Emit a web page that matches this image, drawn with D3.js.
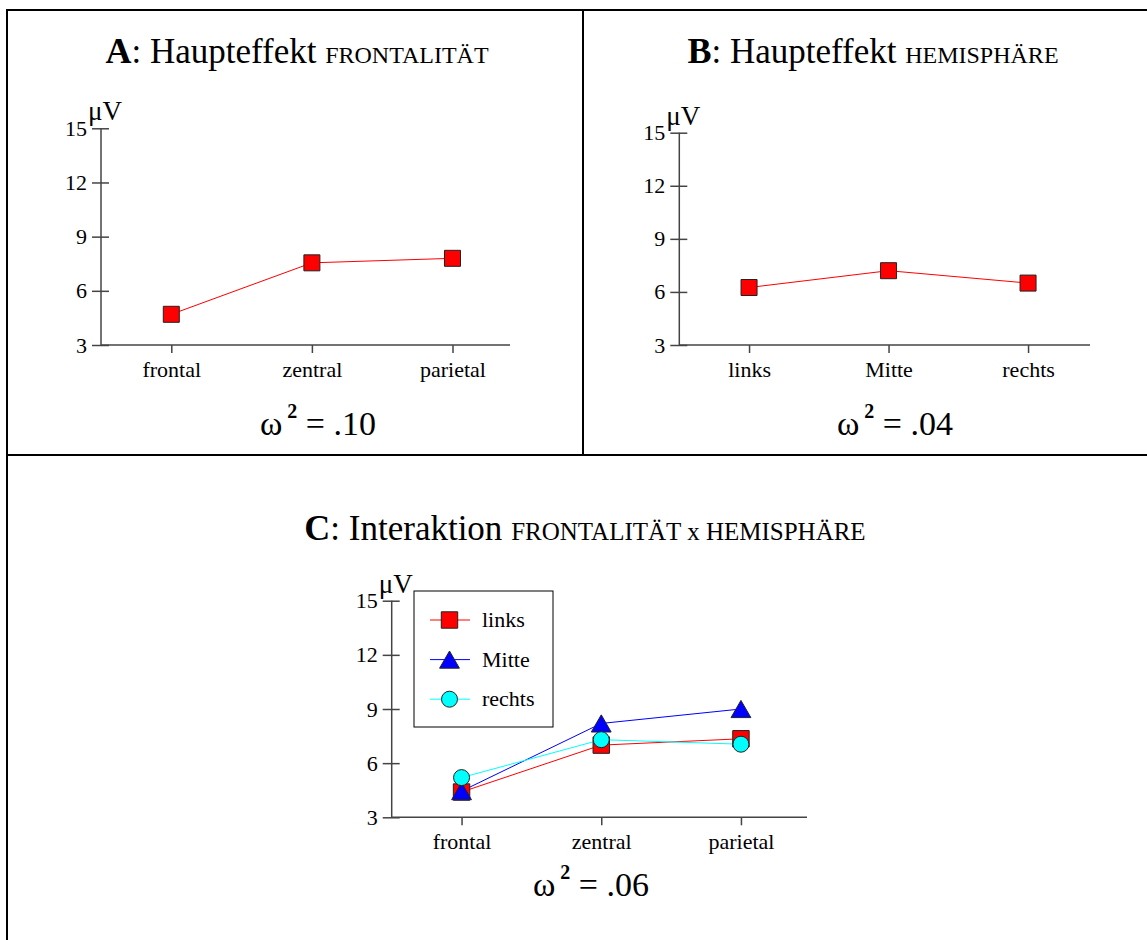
<!DOCTYPE html>
<html>
<head>
<meta charset="utf-8">
<script src="https://cdnjs.cloudflare.com/ajax/libs/d3/7.8.5/d3.min.js"></script>
<style>
  body { margin: 0; background: #fff; }
  svg { display: block; font-family: "Liberation Serif", "Times New Roman", serif; }
</style>
</head>
<body>
<svg width="1147" height="940"></svg>
<script>
// data
var catFront = ["frontal", "zentral", "parietal"];
var catHemi = ["links", "Mitte", "rechts"];
var yTicks = [3, 6, 9, 12, 15];
var valA = [4.7, 7.55, 7.8];          // Haupteffekt Frontalität
var valB = [6.25, 7.2, 6.5];          // Haupteffekt Hemisphäre
var cLinks = [4.4, 7.0, 7.35];        // Interaktion, links
var cMitte = [4.45, 8.2, 9.0];        // Interaktion, Mitte
var cRechts = [5.2, 7.3, 7.05];       // Interaktion, rechts

var svg = d3.select("svg")
svg.append("rect").attr("width", 1147).attr("height", 940).attr("fill", "#fff")

// frame
var frame = svg.append("g").attr("stroke", "#000").attr("stroke-width", 2)
frame.append("line").attr("x1", 7).attr("y1", 10).attr("x2", 1147).attr("y2", 10)
frame.append("line").attr("x1", 7).attr("y1", 9).attr("x2", 7).attr("y2", 940)
frame.append("line").attr("x1", 583).attr("y1", 10).attr("x2", 583).attr("y2", 455)
frame.append("line").attr("x1", 7).attr("y1", 455).attr("x2", 1147).attr("y2", 455)

// triangle centred on its bounding box, like the original plot program
var boxTriangle = {
    draw: function(ctx, size){
        var s = Math.sqrt(4 * size / Math.sqrt(3)), h = s * Math.sqrt(3) / 2
        ctx.moveTo(0, -h / 2)
        ctx.lineTo(s / 2, h / 2)
        ctx.lineTo(-s / 2, h / 2)
        ctx.closePath()
    }
}

function title(x, y, letter, word, caps){
    var t = svg.append("text").attr("x", x).attr("y", y)
        .attr("text-anchor", "middle").attr("fill", "#000")
    t.append("tspan").attr("font-weight", "bold").attr("font-size", 36).text(letter)
    t.append("tspan").attr("font-size", 35).text(": " + word + " ")
    caps.forEach(function(c){
        t.append("tspan").attr("font-size", c.size).text(c.t)
    })
}

function omega(x, y, val){
    var t = svg.append("text").attr("x", x).attr("y", y)
        .attr("text-anchor", "middle").attr("fill", "#000").attr("font-size", 34)
    t.append("tspan").text("ω")
    t.append("tspan").attr("font-size", 20).attr("font-weight", "bold").attr("dx", 5).attr("dy", -17).text("2")
    t.append("tspan").attr("dy", 17).text(" = " + val)
}

function panel(cfg){
    var g = svg.append("g")
    var x = d3.scalePoint().domain(cfg.cats)
        .range([cfg.ax, cfg.ax + 3 * cfg.step]).padding(0.5)
    var y = d3.scaleLinear().domain([3, 15]).range([cfg.yBot, cfg.yTop])

    var ya = g.append("g").attr("transform", "translate(" + cfg.ax + ",0)")
        .call(d3.axisLeft(y).tickValues(yTicks).tickSize(9).tickPadding(5))
    ya.select(".domain").remove()
    ya.selectAll(".tick line").attr("x2", 8).attr("x1", -9)
    ya.append("line").attr("x1", 0).attr("x2", 0).attr("y1", cfg.yTop).attr("y2", cfg.yBot)

    var xa = g.append("g").attr("transform", "translate(0," + cfg.yBot + ")")
        .call(d3.axisBottom(x).tickSize(8).tickPadding(8))
    xa.select(".domain").remove()
    xa.append("line").attr("x1", cfg.ax).attr("x2", cfg.xEnd).attr("y1", 0).attr("y2", 0)

    ya.attr("font-family", null).attr("font-size", 22)
    xa.attr("font-family", null).attr("font-size", 22)
    g.selectAll(".tick text").attr("fill", "#000")
    g.selectAll(".tick line").attr("stroke", "#444").attr("stroke-width", 1.5)
    ya.select("line:last-child").attr("stroke", "#444").attr("stroke-width", 1.5)
    xa.select("line:last-child").attr("stroke", "#444").attr("stroke-width", 1.5)

    g.append("text").attr("x", cfg.ax - 13).attr("y", cfg.yTop - 8)
        .attr("font-size", 27).attr("fill", "#000").text("μV")

    var line = d3.line().x(function(d, i){ return x(cfg.cats[i]) }).y(function(d){ return y(d) })
    cfg.series.forEach(function(s){
        g.append("path").attr("d", line(s.values)).attr("fill", "none")
            .attr("stroke", s.color).attr("stroke-width", 1)
    })
    cfg.series.forEach(function(s){
        g.selectAll(null).data(s.values).enter().append("path")
            .attr("transform", function(d, i){ return "translate(" + x(cfg.cats[i]) + "," + y(d) + ")" })
            .attr("d", d3.symbol().type(s.shape).size(s.size))
            .attr("fill", s.color).attr("stroke", "#222").attr("stroke-width", 1)
    })
    return g
}

var sq = { shape: d3.symbolSquare, size: 256 }

// A
title(297, 63, "A", "Haupteffekt", [{ t: "FRONTALITÄT", size: 24 }])
panel({ cats: catFront, ax: 101, step: 140.6, yTop: 128.3, yBot: 345, xEnd: 510,
    series: [{ values: valA, color: "#ff0000", shape: sq.shape, size: sq.size }] })
omega(318, 435, ".10")

// B
title(873, 63, "B", "Haupteffekt", [{ t: "HEMISPHÄRE", size: 24 }])
panel({ cats: catHemi, ax: 679.3, step: 139.5, yTop: 132.7, yBot: 345, xEnd: 1090,
    series: [{ values: valB, color: "#ff0000", shape: sq.shape, size: sq.size }] })
omega(895, 435, ".04")

// C
title(585, 540, "C", "Interaktion", [{ t: "FRONTALITÄT", size: 25 }, { t: " x ", size: 25 }, { t: "HEMISPHÄRE", size: 25 }])
var seriesC = [
    { name: "links", values: cLinks, color: "#ff0000", shape: d3.symbolSquare, size: 270 },
    { name: "Mitte", values: cMitte, color: "#0000ff", shape: boxTriangle, size: 170 },
    { name: "rechts", values: cRechts, color: "#00ffff", shape: d3.symbolCircle, size: 201 }
]
panel({ cats: catFront, ax: 391.7, step: 139.7, yTop: 600.7, yBot: 817.3, xEnd: 807,
    series: seriesC })
omega(591, 896, ".06")

// legend
var lg = svg.append("g")
lg.append("rect").attr("x", 414).attr("y", 591).attr("width", 139).attr("height", 136)
    .attr("fill", "#fff").attr("stroke", "#000").attr("stroke-width", 1)
seriesC.forEach(function(s, i){
    var ly = 620 + i * 39.6
    lg.append("line").attr("x1", 430).attr("x2", 470).attr("y1", ly).attr("y2", ly)
        .attr("stroke", s.color).attr("stroke-width", 1)
    lg.append("path").attr("transform", "translate(449.5," + ly + ")")
        .attr("d", d3.symbol().type(s.shape).size(s.size))
        .attr("fill", s.color).attr("stroke", "#222").attr("stroke-width", 1)
    lg.append("text").attr("x", 482).attr("y", ly + 7).attr("font-size", 22).attr("fill", "#000").text(s.name)
})
</script>
</body>
</html>
